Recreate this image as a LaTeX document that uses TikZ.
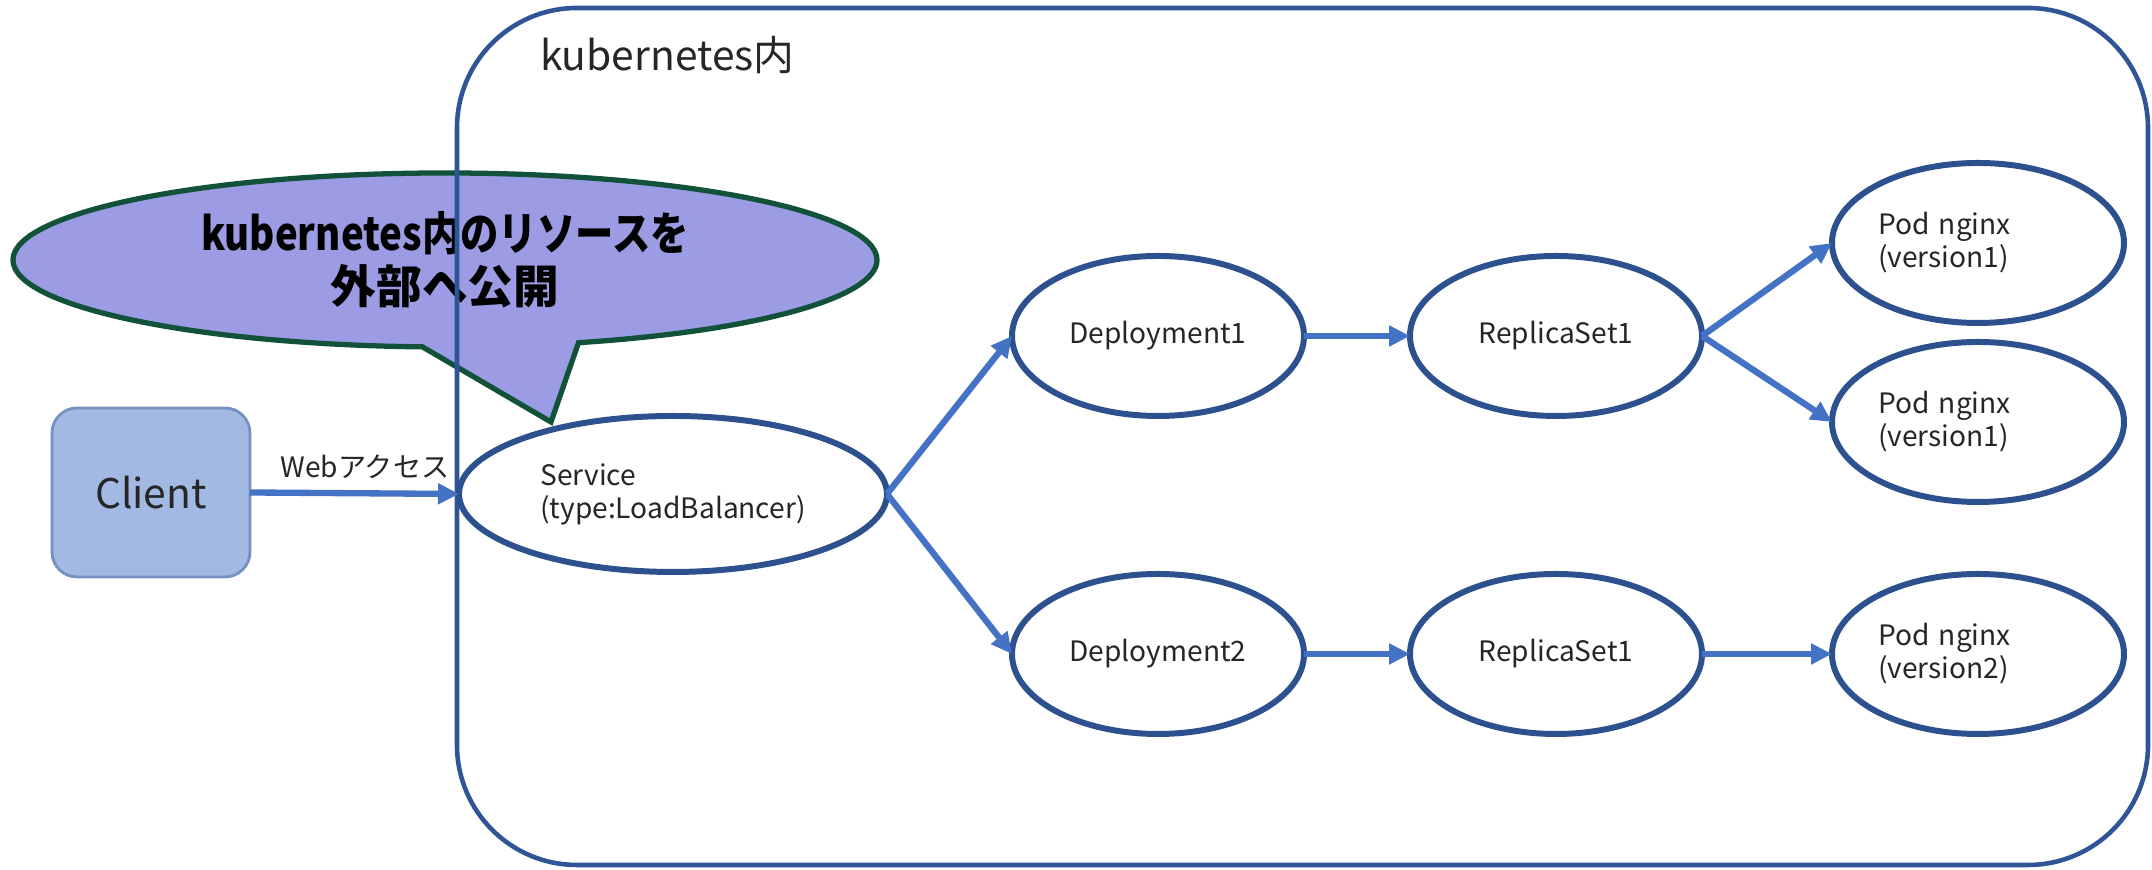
\documentclass[tikz,border=0pt]{standalone}
\usepackage{fontspec}
\setmainfont{Noto Sans CJK JP}
\usetikzlibrary{shapes.geometric,shapes.callouts,arrows.meta}
\definecolor{boxblue}{RGB}{47,85,151}
\definecolor{ellblue}{RGB}{45,80,142}
\definecolor{arrblue}{RGB}{68,114,196}
\definecolor{clientfill}{RGB}{162,185,228}
\definecolor{clientline}{RGB}{118,144,194}
\definecolor{bubblefill}{RGB}{155,156,227}
\definecolor{bubbleline}{RGB}{18,82,58}

\begin{document}
\begin{tikzpicture}[inner sep=0pt,outer sep=0pt,
>={Triangle[length=0.21cm,width=0.2cm]},
flow/.style={->,arrblue,line width=1.8pt},
objnode/.style={draw=ellblue,fill=white,ellipse,line width=1.7pt,minimum width=2.92cm,minimum height=1.6cm,font=\fontsize{8}{9.4}\selectfont,text=black!85,align=left},
podnode/.style={objnode,text width=2.0cm}]

\useasboundingbox (0,0) rectangle (21.52,8.70);

\draw (4.45,6.10) node[ellipse callout,draw=bubbleline,fill=bubblefill,line width=1.5pt,minimum width=8.64cm,minimum height=1.74cm,callout absolute pointer={(5.51,4.48)},callout pointer arc=21,align=center,font=\fontsize{13}{15}\selectfont\bfseries] (bubble) {\scalebox{0.84}[1]{kubernetes内のリソースを}\\外部へ公開};

\draw (13.025,4.335) node[draw=boxblue,line width=1.3pt,rounded corners=1.2cm,minimum width=16.91cm,minimum height=8.57cm] (cluster) {};
\draw (5.40,8.15) node[anchor=west,font=\fontsize{11.6}{14}\selectfont,text=black!85] (clustername) {kubernetes内};

\draw (1.51,3.775) node[draw=clientline,fill=clientfill,line width=0.8pt,rounded corners=0.25cm,minimum width=1.98cm,minimum height=1.69cm,font=\fontsize{11.6}{14}\selectfont,text=black!85] (client) {Client};
\draw (6.73,3.76) node[objnode,minimum width=4.28cm,minimum height=1.56cm] (svc) {Service\\(type:LoadBalancer)};

\draw (11.58,5.34) node[objnode] (dep1) {Deployment1};
\draw (15.56,5.34) node[objnode] (rs1) {ReplicaSet1};
\draw (19.78,6.27) node[podnode] (pod1) {Pod nginx\\(version1)};
\draw (19.78,4.48) node[podnode] (pod2) {Pod nginx\\(version1)};
\draw (11.58,2.16) node[objnode] (dep2) {Deployment2};
\draw (15.56,2.16) node[objnode] (rs2) {ReplicaSet1};
\draw (19.78,2.16) node[podnode] (pod3) {Pod nginx\\(version2)};

\draw[flow] (client.east) -- node[above=0.15cm,pos=.55,font=\fontsize{8}{10}\selectfont,text=black!85] (web) {Webアクセス} (svc.west);
\draw[flow] (svc.east) -- (dep1.west);
\draw[flow] (svc.east) -- (dep2.west);
\draw[flow] (dep1) -- (rs1);
\draw[flow] (rs1.east) -- (pod1.west);
\draw[flow] (rs1.east) -- (pod2.west);
\draw[flow] (dep2) -- (rs2);
\draw[flow] (rs2) -- (pod3);
\end{tikzpicture}
\end{document}
